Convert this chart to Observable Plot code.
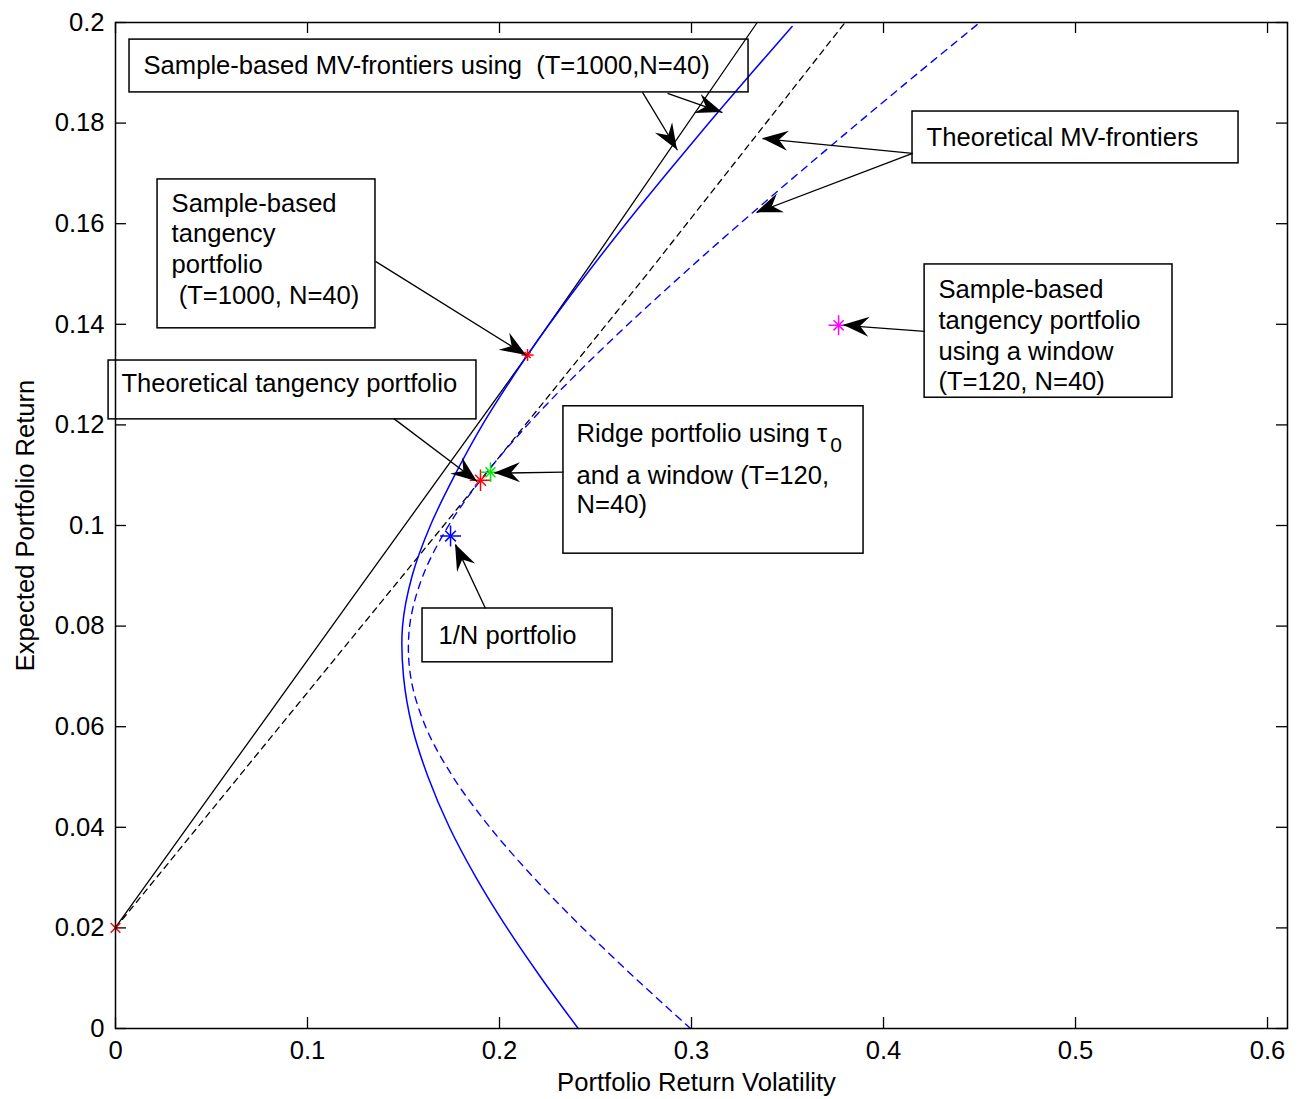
<!DOCTYPE html>
<html>
<head>
<meta charset="utf-8">
<script src="https://cdn.jsdelivr.net/npm/d3@7"></script>
<script src="https://cdn.jsdelivr.net/npm/@observablehq/plot@0.6"></script>
<style>
  body { margin: 0; background: #fff; }
  text { white-space: pre; }
</style>
</head>
<body>
<div id="chart"></div>
<script>
// ---------- data (sigma = volatility, mu = expected return) ----------
const xTicks = [0, 0.1, 0.2, 0.3, 0.4, 0.5, 0.6];
const yTicks = [0, 0.02, 0.04, 0.06, 0.08, 0.1, 0.12, 0.14, 0.16, 0.18, 0.2];
const xLabel = "Portfolio Return Volatility";
const yLabel = "Expected Portfolio Return";

// Sample-based MV frontier (T=1000, N=40) - blue solid
const sampleFrontier = [
  [0.2410, 0.000], [0.2218, 0.010], [0.2039, 0.020], [0.1878, 0.030],
  [0.1739, 0.040], [0.1628, 0.050], [0.1545, 0.060], [0.1500, 0.070],
  [0.1495, 0.080], [0.1545, 0.090], [0.1640, 0.100], [0.1767, 0.110],
  [0.1911, 0.120], [0.2077, 0.130], [0.2146, 0.1339], [0.2259, 0.140],
  [0.2454, 0.150], [0.2658, 0.160], [0.2871, 0.170], [0.3090, 0.180],
  [0.3314, 0.190], [0.3524, 0.1992]
];
// Sample-based capital market line - black solid
const sampleCML = [
  [0.0000, 0.0201], [0.0600, 0.0520], [0.1224, 0.0851], [0.2146, 0.1339],
  [0.2491, 0.1528], [0.3342, 0.2000]
];
// Theoretical MV frontier - blue dashed
const theoFrontier = [
  [0.2995, 0.000], [0.2707, 0.010], [0.2433, 0.020], [0.2178, 0.030],
  [0.1950, 0.040], [0.1758, 0.050], [0.1615, 0.060], [0.1537, 0.070],
  [0.1532, 0.080], [0.1601, 0.090], [0.1735, 0.100], [0.1901, 0.109],
  [0.2146, 0.120], [0.2398, 0.130], [0.2670, 0.140], [0.2956, 0.150],
  [0.3252, 0.160], [0.3557, 0.170], [0.3867, 0.180], [0.4182, 0.190],
  [0.4501, 0.200]
];
// Theoretical capital market line - black dashed
const theoCML = [
  [0.0000, 0.0200], [0.1363, 0.0838], [0.1901, 0.1090], [0.2769, 0.1500],
  [0.3800, 0.2000]
];

// Portfolios
const riskFree        = [[0.0000, 0.0200]];
const sampleTangency  = [[0.2146, 0.1339]];
const theoTangency    = [[0.1901, 0.1090]];
const ridgePortfolio  = [[0.1953, 0.1106]];
const equalWeight     = [[0.1745, 0.0979]];
const windowTangency  = [[0.3766, 0.1398]];

// Annotation boxes [x1, y1, x2, y2] (data units)
const annotBoxes = [
  [0.0073, 0.1966, 0.3297, 0.1861],
  [0.4151, 0.1823, 0.5849, 0.1720],
  [0.0219, 0.1688, 0.1354, 0.1392],
  [-0.0036, 0.1328, 0.1880, 0.1211],
  [0.2333, 0.1237, 0.3896, 0.0944],
  [0.1599, 0.0835, 0.2589, 0.0728],
  [0.4214, 0.1519, 0.5505, 0.1254]
];
// Annotation texts [x, y, text]
const annotTexts = [
  [0.0146, 0.1917, "Sample-based MV-frontiers using\u00a0\u00a0(T=1000,N=40)"],
  [0.4224, 0.1775, "Theoretical MV-frontiers"],
  [0.0292, 0.1552, "Sample-based\ntangency\nportfolio\n\u00a0(T=1000, N=40)"],
  [0.0031, 0.1284, "Theoretical tangency portfolio"],
  [0.2401, 0.1185, "Ridge portfolio using \u03c4"],
  [0.2401, 0.1102, "and a window (T=120,"],
  [0.2401, 0.1044, "N=40)"],
  [0.1682, 0.0783, "1/N portfolio"],
  [0.4286, 0.1380, "Sample-based\ntangency portfolio\nusing a window\n(T=120, N=40)"]
];
const annotSubscripts = [[0.3722, 0.1160, "0"]];
// Arrows [x tail, y tail, x tip, y tip]
const arrows = [
  [0.2745, 0.1861, 0.2927, 0.1746],
  [0.2875, 0.1859, 0.3161, 0.1821],
  [0.4151, 0.1740, 0.3370, 0.1769],
  [0.4151, 0.1740, 0.3339, 0.1622],
  [0.1354, 0.1525, 0.2141, 0.1338],
  [0.1448, 0.1213, 0.1885, 0.1087],
  [0.2333, 0.1106, 0.1974, 0.1104],
  [0.1927, 0.0835, 0.1771, 0.0962],
  [0.4214, 0.1386, 0.3792, 0.1398]
];

// ---------- layout ----------
const W = 1303, H = 1099;
const mL = 115, mR = 16, mT = 22, mB = 71;
const frameW = W - mL - mR, frameH = H - mT - mB;
const tickLen = 11;
const fmt = d3.format("~g");

function arrowHeads(index, scales) {
  const g = d3.create("svg:g");
  const L = 26, HW = 10, B = 17;
  for (const a of arrows) {
    const x1 = scales.x(a[0]), y1 = scales.y(a[1]);
    const x2 = scales.x(a[2]), y2 = scales.y(a[3]);
    const ang = Math.atan2(y2 - y1, x2 - x1);
    const c = Math.cos(ang), s = Math.sin(ang);
    const pts = [[0, 0], [-L, -HW], [-B, 0], [-L, HW]]
      .map(([u, v]) => [x2 + u * c - v * s, y2 + u * s + v * c]);
    g.append("path")
      .attr("d", "M" + pts.map(p => p.join(",")).join("L") + "Z")
      .attr("fill", "black");
  }
  return g.node();
}

function star(data, color, r) {
  return [
    Plot.dot(data, {x: d => d[0], y: d => d[1], symbol: "plus", r: r, stroke: color, strokeWidth: 1.5}),
    Plot.dot(data, {x: d => d[0], y: d => d[1], symbol: "times", r: r * 0.72, stroke: color, strokeWidth: 1.5})
  ];
}

const chart = Plot.plot({
  width: W, height: H,
  marginLeft: mL, marginRight: mR, marginTop: mT, marginBottom: mB,
  x: {domain: [0, 0.6104]},
  y: {domain: [0, 0.2]},
  style: {fontFamily: "'Liberation Sans', Arial, sans-serif", fontSize: "25.6px", background: "white", color: "black", overflow: "visible"},
  marks: [
    // curves
    Plot.line(theoCML, {x: d => d[0], y: d => d[1], stroke: "black", strokeWidth: 1.3, strokeDasharray: "6,5"}),
    Plot.line(theoFrontier, {x: d => d[0], y: d => d[1], stroke: "#0000ff", strokeWidth: 1.4, strokeDasharray: "7,6", curve: "catmull-rom"}),
    Plot.line(sampleCML, {x: d => d[0], y: d => d[1], stroke: "black", strokeWidth: 1.3}),
    Plot.line(sampleFrontier, {x: d => d[0], y: d => d[1], stroke: "#0000ff", strokeWidth: 1.5, curve: "catmull-rom"}),
    // markers
    Plot.dot(riskFree, {x: d => d[0], y: d => d[1], symbol: "times", r: 4.5, stroke: "#ff0000", strokeWidth: 1.5}),
    ...star(sampleTangency, "#ff0000", 4),
    ...star(theoTangency, "#ff0000", 7),
    ...star(ridgePortfolio, "#00ee00", 6.4),
    ...star(equalWeight, "#0000ff", 6.8),
    ...star(windowTangency, "#ff00ff", 6.5),
    // frame and ticks
    Plot.frame({stroke: "black", strokeWidth: 1.5}),
    Plot.tickX(xTicks, {x: d => d, insetTop: frameH - tickLen, stroke: "black", strokeWidth: 1.3}),
    Plot.tickX(xTicks, {x: d => d, insetBottom: frameH - tickLen, stroke: "black", strokeWidth: 1.3}),
    Plot.tickY(yTicks, {y: d => d, insetRight: frameW - tickLen, stroke: "black", strokeWidth: 1.3}),
    Plot.tickY(yTicks, {y: d => d, insetLeft: frameW - tickLen, stroke: "black", strokeWidth: 1.3}),
    Plot.axisX({ticks: xTicks, tickSize: 0, tickPadding: 12, tickFormat: fmt, label: null}),
    Plot.axisY({ticks: yTicks, tickSize: 0, tickPadding: 11, tickFormat: fmt, label: null}),
    Plot.text([xLabel], {frameAnchor: "bottom", dy: 54, dx: -5, lineAnchor: "middle", textAnchor: "middle", text: d => d, fill: "black"}),
    Plot.text([yLabel], {frameAnchor: "left", rotate: -90, dx: -90, lineAnchor: "middle", textAnchor: "middle", text: d => d, fill: "black"}),
    // annotations
    Plot.rect(annotBoxes, {x1: d => d[0], y1: d => d[1], x2: d => d[2], y2: d => d[3], fill: "none", stroke: "black", strokeWidth: 1.5}),
    Plot.text(annotTexts, {x: d => d[0], y: d => d[1], text: d => d[2], textAnchor: "start", lineAnchor: "middle", lineHeight: 1.2, fill: "black"}),
    Plot.text(annotSubscripts, {x: d => d[0], y: d => d[1], text: d => d[2], textAnchor: "start", lineAnchor: "middle", fontSize: 21, fill: "black"}),
    Plot.link(arrows, {x1: d => d[0], y1: d => d[1], x2: d => d[2], y2: d => d[3], stroke: "black", strokeWidth: 1.3}),
    arrowHeads
  ]
});
document.getElementById("chart").appendChild(chart);
</script>
</body>
</html>
